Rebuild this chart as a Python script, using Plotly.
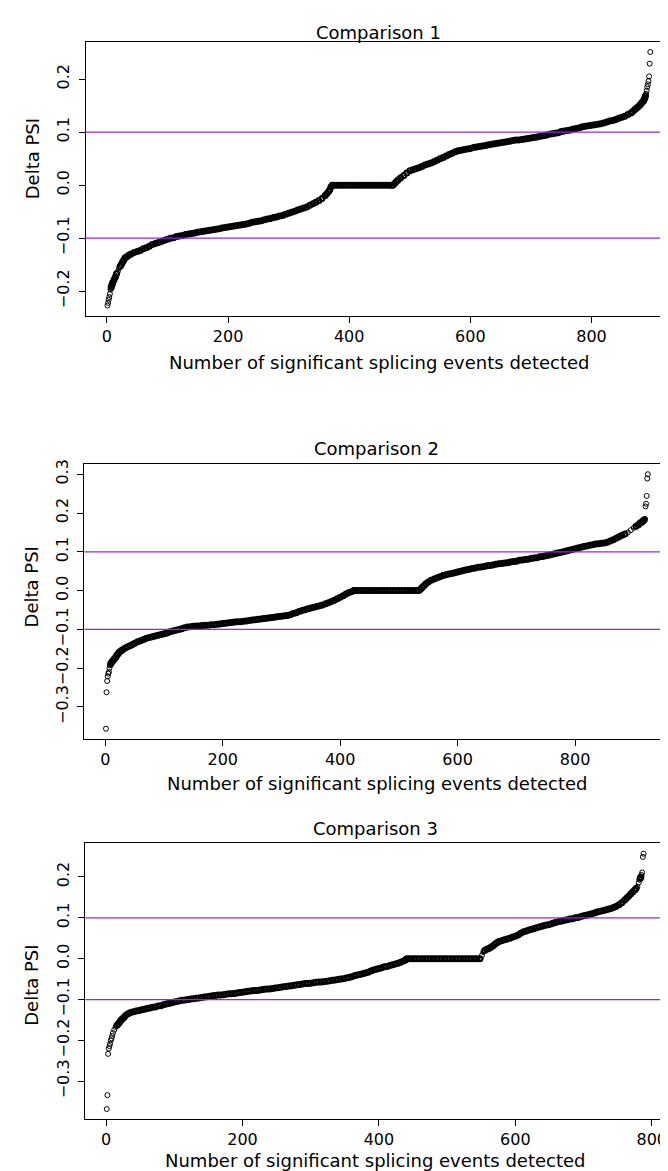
import plotly.graph_objects as go

# ---------------- data ----------------
titles = ["Comparison 1", "Comparison 2", "Comparison 3"]
x_label = "Number of significant splicing events detected"
y_label = "Delta PSI"
x_ticks = [0, 200, 400, 600, 800]
y_ticks_1 = [-0.2, -0.1, 0.0, 0.1, 0.2]
y_ticks_2 = [-0.3, -0.2, -0.1, 0.0, 0.1, 0.2, 0.3]
y_ticks_3 = [-0.3, -0.2, -0.1, 0.0, 0.1, 0.2]
thresholds = [-0.1, 0.1]

c1_rank = [
    1, 2, 3, 4, 5, 6, 7, 8, 9, 10,
    12, 14, 16, 18, 20, 22, 24, 26, 28, 30,
    33, 36, 40, 45, 50, 55, 60, 65, 70, 75,
    80, 85, 90, 95, 100, 105, 110, 115, 120, 125,
    130, 135, 140, 145, 150, 155, 160, 165, 170, 175,
    180, 185, 190, 195, 200, 205, 210, 215, 220, 225,
    230, 235, 240, 245, 250, 255, 260, 265, 270, 275,
    280, 285, 290, 295, 300, 305, 310, 315, 320, 325,
    330, 335, 340, 345, 350, 355, 360, 363, 366, 368,
    370, 372, 375, 380, 385, 390, 395, 400, 405, 410,
    415, 420, 425, 430, 435, 440, 445, 450, 455, 460,
    465, 470, 472, 475, 478, 481, 485, 490, 495, 500,
    505, 510, 515, 520, 525, 530, 535, 540, 545, 550,
    555, 560, 565, 570, 575, 580, 585, 590, 595, 600,
    605, 610, 615, 620, 625, 630, 635, 640, 645, 650,
    655, 660, 665, 670, 675, 680, 685, 690, 695, 700,
    705, 710, 715, 720, 725, 730, 735, 740, 745, 750,
    755, 760, 765, 770, 775, 780, 785, 790, 795, 800,
    805, 810, 815, 820, 825, 830, 835, 840, 845, 850,
    855, 860, 865, 868, 871, 874, 877, 880, 882, 884,
    886, 887, 888, 889, 890, 891, 892, 893, 894, 895,
    896, 897]
c1_dpsi = [
    -0.227, -0.222, -0.216, -0.211, -0.205, -0.197, -0.193, -0.189, -0.186, -0.183,
    -0.178, -0.173, -0.167, -0.163, -0.157, -0.153, -0.149, -0.145, -0.141, -0.137,
    -0.135, -0.132, -0.130, -0.127, -0.125, -0.123, -0.120, -0.118, -0.115, -0.112,
    -0.110, -0.108, -0.106, -0.104, -0.102, -0.100, -0.099, -0.097, -0.096, -0.095,
    -0.093, -0.092, -0.091, -0.090, -0.089, -0.088, -0.087, -0.086, -0.085, -0.084,
    -0.083, -0.082, -0.081, -0.080, -0.079, -0.078, -0.077, -0.076, -0.075, -0.074,
    -0.073, -0.072, -0.070, -0.069, -0.068, -0.067, -0.065, -0.064, -0.063, -0.061,
    -0.060, -0.058, -0.057, -0.055, -0.053, -0.051, -0.049, -0.047, -0.045, -0.043,
    -0.041, -0.038, -0.035, -0.032, -0.029, -0.025, -0.020, -0.016, -0.012, -0.008,
    -0.003, 0.0, 0.0, 0.0, 0.0, 0.0, 0.0, 0.0, 0.0, 0.0,
    0.0, 0.0, 0.0, 0.0, 0.0, 0.0, 0.0, 0.0, 0.0, 0.0,
    0.0, 0.0, 0.0, 0.003, 0.007, 0.010, 0.014, 0.018, 0.023, 0.027,
    0.029, 0.031, 0.033, 0.035, 0.038, 0.040, 0.042, 0.044, 0.047, 0.050,
    0.052, 0.055, 0.058, 0.060, 0.063, 0.065, 0.066, 0.067, 0.068, 0.069,
    0.071, 0.072, 0.073, 0.074, 0.075, 0.076, 0.077, 0.078, 0.079, 0.080,
    0.081, 0.082, 0.083, 0.084, 0.085, 0.085, 0.086, 0.087, 0.088, 0.089,
    0.090, 0.091, 0.092, 0.093, 0.094, 0.096, 0.097, 0.098, 0.099, 0.101,
    0.102, 0.103, 0.104, 0.106, 0.107, 0.108, 0.110, 0.111, 0.112, 0.113,
    0.114, 0.115, 0.116, 0.117, 0.119, 0.121, 0.122, 0.124, 0.126, 0.128,
    0.130, 0.133, 0.136, 0.139, 0.142, 0.145, 0.148, 0.151, 0.154, 0.157,
    0.159, 0.162, 0.165, 0.168, 0.172, 0.178, 0.185, 0.190, 0.196, 0.205,
    0.229, 0.251]

c2_rank = [
    1, 2, 3, 4, 5, 6, 7, 8, 9, 10,
    12, 14, 16, 18, 20, 22, 24, 27, 30, 34,
    38, 42, 46, 50, 55, 60, 65, 70, 75, 80,
    85, 90, 95, 100, 105, 110, 115, 120, 125, 130,
    135, 140, 145, 150, 155, 160, 165, 170, 175, 180,
    185, 190, 195, 200, 205, 210, 215, 220, 225, 230,
    235, 240, 245, 250, 255, 260, 265, 270, 275, 280,
    285, 290, 295, 300, 305, 310, 315, 320, 325, 330,
    335, 340, 345, 350, 355, 360, 365, 370, 375, 380,
    385, 390, 395, 400, 405, 410, 415, 420, 423, 425,
    430, 435, 440, 445, 450, 455, 460, 465, 470, 475,
    480, 485, 490, 495, 500, 505, 510, 515, 520, 525,
    530, 534, 537, 540, 543, 546, 550, 555, 560, 565,
    570, 575, 580, 585, 590, 595, 600, 605, 610, 615,
    620, 625, 630, 635, 640, 645, 650, 655, 660, 665,
    670, 675, 680, 685, 690, 695, 700, 705, 710, 715,
    720, 725, 730, 735, 740, 745, 750, 755, 760, 765,
    770, 775, 780, 785, 790, 795, 800, 805, 810, 815,
    820, 825, 830, 835, 840, 845, 850, 855, 860, 865,
    870, 875, 880, 885, 890, 895, 900, 904, 908, 911,
    914, 916, 918, 919, 920, 921, 922, 923, 924]
c2_dpsi = [
    -0.356, -0.262, -0.233, -0.221, -0.214, -0.210, -0.200, -0.193, -0.189, -0.186,
    -0.182, -0.178, -0.175, -0.171, -0.166, -0.162, -0.158, -0.155, -0.152, -0.148,
    -0.145, -0.142, -0.139, -0.136, -0.132, -0.129, -0.126, -0.123, -0.121, -0.119,
    -0.117, -0.115, -0.113, -0.111, -0.109, -0.106, -0.104, -0.102, -0.100, -0.098,
    -0.096, -0.094, -0.093, -0.092, -0.091, -0.091, -0.090, -0.089, -0.089, -0.088,
    -0.088, -0.087, -0.086, -0.085, -0.084, -0.083, -0.082, -0.081, -0.080, -0.080,
    -0.079, -0.078, -0.077, -0.076, -0.075, -0.074, -0.073, -0.072, -0.071, -0.070,
    -0.069, -0.068, -0.067, -0.066, -0.065, -0.064, -0.062, -0.059, -0.057, -0.054,
    -0.051, -0.049, -0.047, -0.045, -0.043, -0.041, -0.039, -0.037, -0.034, -0.031,
    -0.028, -0.025, -0.021, -0.017, -0.013, -0.009, -0.005, -0.002, 0.0, 0.0,
    0.0, 0.0, 0.0, 0.0, 0.0, 0.0, 0.0, 0.0, 0.0, 0.0,
    0.0, 0.0, 0.0, 0.0, 0.0, 0.0, 0.0, 0.0, 0.0, 0.0,
    0.0, 0.0, 0.004, 0.009, 0.013, 0.018, 0.022, 0.027, 0.030, 0.033,
    0.036, 0.039, 0.041, 0.043, 0.044, 0.046, 0.048, 0.050, 0.052, 0.054,
    0.055, 0.057, 0.058, 0.060, 0.061, 0.062, 0.064, 0.065, 0.066, 0.068,
    0.069, 0.070, 0.071, 0.072, 0.074, 0.075, 0.076, 0.078, 0.079, 0.080,
    0.081, 0.083, 0.084, 0.085, 0.087, 0.088, 0.090, 0.091, 0.093, 0.095,
    0.097, 0.098, 0.100, 0.102, 0.104, 0.106, 0.108, 0.110, 0.112, 0.114,
    0.115, 0.117, 0.118, 0.120, 0.121, 0.122, 0.123, 0.125, 0.128, 0.131,
    0.135, 0.139, 0.143, 0.146, 0.150, 0.156, 0.162, 0.166, 0.170, 0.174,
    0.177, 0.180, 0.183, 0.185, 0.217, 0.224, 0.244, 0.289, 0.300]

c3_rank = [
    1, 2, 3, 4, 5, 6, 7, 8, 9, 10,
    12, 14, 16, 18, 20, 22, 24, 26, 28, 30,
    33, 36, 40, 44, 48, 52, 56, 60, 64, 68,
    72, 76, 80, 84, 88, 92, 96, 100, 104, 108,
    112, 116, 120, 124, 128, 132, 136, 140, 144, 148,
    152, 156, 160, 164, 168, 172, 176, 180, 184, 188,
    192, 196, 200, 204, 208, 212, 216, 220, 224, 228,
    232, 236, 240, 244, 248, 252, 256, 260, 264, 268,
    272, 276, 280, 284, 288, 292, 296, 300, 304, 308,
    312, 316, 320, 324, 328, 332, 336, 340, 344, 348,
    352, 356, 360, 364, 368, 372, 376, 380, 384, 388,
    392, 396, 400, 404, 408, 412, 416, 420, 424, 428,
    432, 436, 439, 441, 444, 448, 452, 456, 460, 464,
    468, 472, 476, 480, 484, 488, 492, 496, 500, 504,
    508, 512, 516, 520, 524, 528, 532, 536, 540, 544,
    548, 549, 551, 553, 555, 558, 561, 564, 567, 570,
    573, 576, 580, 584, 588, 592, 596, 600, 604, 608,
    612, 616, 620, 624, 628, 632, 636, 640, 644, 648,
    652, 656, 660, 664, 668, 672, 676, 680, 684, 688,
    692, 696, 700, 704, 708, 712, 716, 720, 724, 728,
    732, 736, 740, 744, 748, 752, 756, 760, 763, 766,
    769, 772, 775, 777, 779, 781, 782, 783, 784, 785,
    786, 787, 788]
c3_dpsi = [
    -0.368, -0.334, -0.233, -0.220, -0.214, -0.208, -0.200, -0.195, -0.189, -0.182,
    -0.174, -0.167, -0.163, -0.159, -0.155, -0.150, -0.147, -0.144, -0.140, -0.137,
    -0.134, -0.132, -0.130, -0.128, -0.127, -0.125, -0.124, -0.122, -0.121, -0.119,
    -0.118, -0.116, -0.115, -0.113, -0.111, -0.110, -0.108, -0.106, -0.105, -0.103,
    -0.102, -0.101, -0.100, -0.099, -0.098, -0.097, -0.096, -0.095, -0.094, -0.093,
    -0.092, -0.091, -0.090, -0.089, -0.089, -0.088, -0.087, -0.086, -0.086, -0.085,
    -0.084, -0.083, -0.082, -0.081, -0.080, -0.079, -0.078, -0.078, -0.077, -0.076,
    -0.075, -0.074, -0.074, -0.073, -0.072, -0.071, -0.070, -0.069, -0.068, -0.067,
    -0.066, -0.065, -0.064, -0.063, -0.062, -0.061, -0.061, -0.060, -0.059, -0.058,
    -0.057, -0.057, -0.056, -0.055, -0.054, -0.053, -0.052, -0.051, -0.050, -0.049,
    -0.047, -0.046, -0.044, -0.042, -0.040, -0.039, -0.037, -0.035, -0.033, -0.030,
    -0.028, -0.026, -0.024, -0.022, -0.020, -0.019, -0.017, -0.015, -0.013, -0.011,
    -0.009, -0.006, -0.003, 0.0, 0.0, 0.0, 0.0, 0.0, 0.0, 0.0,
    0.0, 0.0, 0.0, 0.0, 0.0, 0.0, 0.0, 0.0, 0.0, 0.0,
    0.0, 0.0, 0.0, 0.0, 0.0, 0.0, 0.0, 0.0, 0.0, 0.0,
    0.0, 0.0, 0.008, 0.016, 0.020, 0.023, 0.025, 0.028, 0.031, 0.035,
    0.039, 0.042, 0.044, 0.046, 0.048, 0.050, 0.053, 0.055, 0.058, 0.062,
    0.066, 0.068, 0.070, 0.072, 0.074, 0.076, 0.078, 0.080, 0.082, 0.083,
    0.085, 0.087, 0.089, 0.091, 0.092, 0.094, 0.095, 0.097, 0.098, 0.100,
    0.101, 0.103, 0.105, 0.106, 0.108, 0.110, 0.112, 0.114, 0.116, 0.117,
    0.119, 0.121, 0.123, 0.125, 0.128, 0.132, 0.137, 0.143, 0.148, 0.153,
    0.158, 0.163, 0.168, 0.172, 0.176, 0.186, 0.193, 0.197, 0.200, 0.205,
    0.211, 0.249, 0.257]

assert len(c1_rank) == len(c1_dpsi)
assert len(c2_rank) == len(c2_dpsi)
assert len(c3_rank) == len(c3_dpsi)

# ---------------- layout (pixel geometry of the page) ----------------
W, H = 668, 1171
FONT = "DejaVu Sans"
PURPLE = "#A020F0"

panels = [
    dict(rank=c1_rank, dpsi=c1_dpsi, yticks=y_ticks_1, title=titles[0],
         box=(78, 666, 29, 304), title_y=20, xlab_y=351, ylab_y=146),
    dict(rank=c2_rank, dpsi=c2_dpsi, yticks=y_ticks_2, title=titles[1],
         box=(76.5, 663.5, 453, 729), title_y=437, xlab_y=774, ylab_y=576),
    dict(rank=c3_rank, dpsi=c3_dpsi, yticks=y_ticks_3, title=titles[2],
         box=(77.5, 659, 834, 1111), title_y=819, xlab_y=1152, ylab_y=976),
]


def stroke_widths(vals, step_tol=0.006):
    """Thicker ring stroke where neighbouring points sit in a dense run
    (the reference's hundreds of overlapping circles read as a solid band)."""
    out = []
    for j, v in enumerate(vals):
        prev_gap = abs(v - vals[j - 1]) if j > 0 else 1.0
        next_gap = abs(vals[j + 1] - v) if j < len(vals) - 1 else 1.0
        out.append(2.0 if (prev_gap < step_tol and next_gap < step_tol) else 1.0)
    return out


fig = go.Figure()
annotations = []
shapes = []

for k, p in enumerate(panels, start=1):
    sfx = "" if k == 1 else str(k)
    xa, ya = "x" + sfx, "y" + sfx
    left, right, top, bottom = p["box"]

    fig.add_trace(go.Scatter(
        x=p["rank"], y=p["dpsi"], mode="markers",
        xaxis=xa, yaxis=ya, showlegend=False, hoverinfo="skip",
        marker=dict(symbol="circle-open", size=5, color="black",
                    line=dict(width=stroke_widths(p["dpsi"]), color="black")),
    ))

    n = max(p["rank"])
    xr = [1 - 0.04 * (n - 1), n + 0.04 * (n - 1)]
    lo, hi = min(p["dpsi"]), max(p["dpsi"])
    pad = 0.04 * (hi - lo)
    yr = [lo - pad, hi + pad]

    axis_common = dict(
        showline=True, mirror=True, linecolor="black", linewidth=1,
        ticks="outside", ticklen=6, tickwidth=1, tickcolor="black",
        showgrid=False, zeroline=False,
        tickfont=dict(family=FONT, size=16, color="black"),
    )
    fig.update_layout(**{
        "xaxis" + sfx: dict(domain=[left / W, right / W], range=xr,
                            anchor=ya, tickmode="array", tickvals=x_ticks,
                            **axis_common),
        "yaxis" + sfx: dict(domain=[1 - bottom / H, 1 - top / H], range=yr,
                            anchor=xa, tickmode="array", tickvals=p["yticks"],
                            tickformat=".1f", tickangle=-90,
                            ticklabelstandoff=3, **axis_common),
    })

    for t in thresholds:
        shapes.append(dict(type="line", xref=xa + " domain", yref=ya,
                           x0=0, x1=1, y0=t, y1=t, layer="above",
                           line=dict(color=PURPLE, width=1.2)))

    cx = (left + right) / 2 / W
    annotations.append(dict(text=p["title"], xref="paper", yref="paper",
                            x=cx, y=1 - p["title_y"] / H, showarrow=False,
                            xanchor="center", yanchor="middle",
                            font=dict(family=FONT, size=18, color="black")))
    annotations.append(dict(text=x_label, xref="paper", yref="paper",
                            x=cx, y=1 - p["xlab_y"] / H, showarrow=False,
                            xanchor="center", yanchor="middle",
                            font=dict(family=FONT, size=18, color="black")))
    annotations.append(dict(text=y_label, xref="paper", yref="paper",
                            x=24 / W, y=1 - p["ylab_y"] / H, showarrow=False,
                            textangle=-90, xanchor="center", yanchor="middle",
                            font=dict(family=FONT, size=18, color="black")))

fig.update_layout(
    width=W, height=H,
    margin=dict(l=0, r=0, t=0, b=0),
    paper_bgcolor="white", plot_bgcolor="white",
    annotations=annotations, shapes=shapes,
    font=dict(family=FONT, color="black"),
)

fig.write_html("out.html")
